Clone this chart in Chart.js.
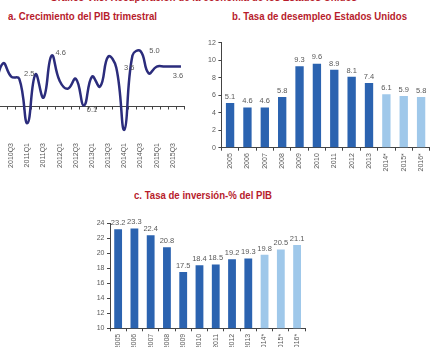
<!DOCTYPE html>
<html>
<head>
<meta charset="utf-8">
<script src="https://cdn.jsdelivr.net/npm/chart.js@4.4.1/dist/chart.umd.min.js"></script>
<style>
html, body { margin: 0; padding: 0; background: #fff; }
body { width: 430px; height: 347px; overflow: hidden; position: relative; }
.t { position: absolute; white-space: nowrap; font-family: 'Liberation Sans', Arial, sans-serif;
     font-weight: bold; color: #b71c2c; line-height: 1; transform-origin: 0 0; }
canvas { position: absolute; }
</style>
</head>
<body>
<div class="t" id="tMain">Gráfico VI.3: Recuperación de la economía de los Estados Unidos</div>
<div class="t" id="tA">a. Crecimiento del PIB trimestral</div>
<div class="t" id="tB">b. Tasa de desempleo Estados Unidos</div>
<div class="t" id="tC">c. Tasa de inversión-% del PIB</div>
<canvas id="gdp" width="194" height="133" style="left:-9px;top:40px"></canvas>
<canvas id="unemp" width="237" height="142" style="left:195px;top:36px"></canvas>
<canvas id="inv" width="223" height="142" style="left:85px;top:216px"></canvas>
<script>
// Quarterly real GDP growth (annualised, %)
const quarters = ['2010Q1','2010Q2','2010Q3','2010Q4','2011Q1','2011Q2','2011Q3','2011Q4',
                  '2012Q1','2012Q2','2012Q3','2012Q4','2013Q1','2013Q2','2013Q3','2013Q4',
                  '2014Q1','2014Q2','2014Q3','2014Q4','2015Q1','2015Q2','2015Q3','2015Q4'];
const gdpGrowth = [1.7, 3.9, 2.7, 2.5, -1.5, 2.9, 0.8, 4.6,
                   2.3, 1.6, 2.5, 0.1, 2.7, 1.8, 4.5, 3.5,
                   -2.1, 4.6, 5.0, 3.0, 3.6, 3.6, 3.6, 3.6];

// Annual series (* = projection)
const years = ['2005','2006','2007','2008','2009','2010','2011','2012','2013','2014*','2015*','2016*'];
const unemployment = [5.1, 4.6, 4.6, 5.8, 9.3, 9.6, 8.9, 8.1, 7.4, 6.1, 5.9, 5.8];
const investment = [23.2, 23.3, 22.4, 20.8, 17.5, 18.4, 18.5, 19.2, 19.3, 19.8, 20.5, 21.1];

const unempTicks = [0, 2, 4, 6, 8, 10, 12];
const invTicks = [10, 12, 14, 16, 18, 20, 22, 24];

const FONT = "'Liberation Sans', Arial, sans-serif";
const GREY = '#595959';
const AXIS = '#444444';
const DARK_BLUE = '#2b63b0';
const LIGHT_BLUE = '#9fc8ea';

Chart.defaults.font.family = FONT;
Chart.defaults.color = GREY;

// Titles: bold red headings stretched to their column width
function placeTitle(id, x, cy, width, size) {
  const el = document.getElementById(id);
  el.style.fontSize = size + 'px';
  const w = el.getBoundingClientRect().width;
  el.style.transform = 'scaleX(' + (width / w) + ')';
  el.style.left = x + 'px';
  el.style.top = (cy - 0.49 * size) + 'px';
}
placeTitle('tMain', 50, -2.8, 307, 10.5);
placeTitle('tA', 8, 16, 149, 10.5);
placeTitle('tB', 231.7, 16, 175, 10.5);
placeTitle('tC', 134, 195.2, 138, 10.5);

// Value labels on selected points of the GDP line
const gdpLabelSpots = [
  { i: 3, dx: 10, dy: -5 },
  { i: 7, dx: 9, dy: -3 },
  { i: 11, dx: 8, dy: 5 },
  { i: 15, dx: 13, dy: 0 },
  { i: 18, dx: 14, dy: 0 },
  { i: 23, dx: -3, dy: 9 }
];
const lineLabels = {
  id: 'lineLabels',
  afterDatasetsDraw(chart) {
    const ctx = chart.ctx;
    const meta = chart.getDatasetMeta(0);
    const data = chart.data.datasets[0].data;
    ctx.save();
    ctx.font = '7.5px ' + FONT;
    ctx.fillStyle = GREY;
    ctx.textAlign = 'center';
    ctx.textBaseline = 'middle';
    gdpLabelSpots.forEach(s => {
      const p = meta.data[s.i];
      ctx.fillText(data[s.i].toFixed(1), p.x + s.dx, p.y + s.dy);
    });
    ctx.restore();
  }
};

new Chart(document.getElementById('gdp'), {
  type: 'line',
  data: {
    labels: quarters,
    datasets: [{
      data: gdpGrowth,
      borderColor: '#2b2c7c',
      borderWidth: 2.5,
      pointRadius: 0,
      tension: 0.45,
      fill: false
    }]
  },
  options: {
    responsive: false,
    animation: false,
    devicePixelRatio: 1,
    layout: { padding: 0 },
    plugins: { legend: { display: false }, tooltip: { enabled: false } },
    scales: {
      y: { display: false, min: -6, max: 6 },
      x: {
        position: { y: 0 },
        offset: true,
        // the axis crosses at zero, so it takes no room from the plot
        afterFit: s => {
          s.height = 0;
          s.paddingLeft = 0; s.paddingRight = 0;
          s.paddingTop = 0; s.paddingBottom = 0;
        },
        border: { display: true, color: AXIS, width: 1 },
        grid: { offset: true, drawOnChartArea: false, drawTicks: true, tickLength: 2.5, color: AXIS },
        ticks: {
          autoSkip: false, minRotation: 90, maxRotation: 90, padding: 34,
          font: { size: 7 }, color: GREY,
          callback: (v, i) => (i % 2 === 0 ? quarters[i] : '')
        }
      }
    }
  },
  plugins: [lineLabels]
});

// Value labels above bars
const barLabels = {
  id: 'barLabels',
  afterDatasetsDraw(chart) {
    const ctx = chart.ctx;
    const meta = chart.getDatasetMeta(0);
    const data = chart.data.datasets[0].data;
    ctx.save();
    ctx.font = '7.5px ' + FONT;
    ctx.fillStyle = GREY;
    ctx.textAlign = 'center';
    ctx.textBaseline = 'alphabetic';
    meta.data.forEach((bar, i) => {
      ctx.fillText(data[i].toFixed(1), bar.x, bar.y - 4.3);
    });
    ctx.restore();
  }
};

function barChart(id, values, ticks, yWidth, xHeight, padTop) {
  return new Chart(document.getElementById(id), {
    type: 'bar',
    data: {
      labels: years,
      datasets: [{
        data: values,
        backgroundColor: years.map(y => (y.endsWith('*') ? LIGHT_BLUE : DARK_BLUE)),
        borderWidth: 0,
        barPercentage: 0.48,
        categoryPercentage: 1
      }]
    },
    options: {
      responsive: false,
      animation: false,
      devicePixelRatio: 1,
      layout: { padding: { top: padTop, left: 0, right: 0, bottom: 0 } },
      plugins: { legend: { display: false }, tooltip: { enabled: false } },
      scales: {
        y: {
          min: ticks[0], max: ticks[ticks.length - 1],
          afterBuildTicks: s => { s.ticks = ticks.map(v => ({ value: v })); },
          afterFit: s => { s.width = yWidth; },
          border: { display: true, color: AXIS, width: 1 },
          grid: { drawOnChartArea: false, drawTicks: true, tickLength: 3, color: AXIS },
          ticks: { padding: 2.5, font: { size: 7 }, color: GREY }
        },
        x: {
          afterFit: s => { s.height = xHeight; },
          border: { display: true, color: AXIS, width: 1 },
          grid: { offset: true, drawOnChartArea: false, drawTicks: true, tickLength: 3, color: AXIS },
          ticks: { autoSkip: false, minRotation: 90, maxRotation: 90, padding: 2.5, font: { size: 7 }, color: GREY }
        }
      }
    },
    plugins: [barLabels]
  });
}

barChart('unemp', unemployment, unempTicks, 26.4, 30.3, 5);
barChart('inv', investment, invTicks, 25, 29.7, 7.3);
</script>
</body>
</html>
